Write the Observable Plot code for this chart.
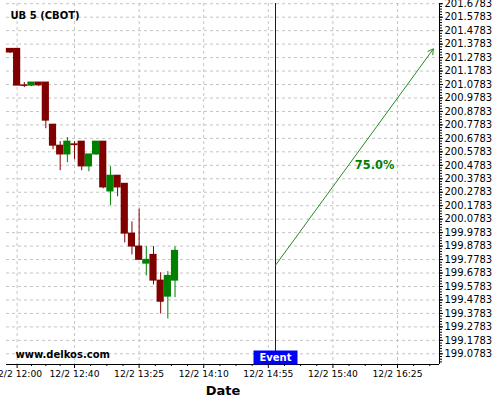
<!DOCTYPE html>
<html>
<head>
<meta charset="utf-8">
<script src="https://cdn.jsdelivr.net/npm/d3@7"></script>
<script src="https://cdn.jsdelivr.net/npm/@observablehq/plot@0.6"></script>
<style>
  html, body { margin: 0; padding: 0; background: #fff; }
  #chart { width: 500px; height: 400px; }
</style>
</head>
<body>
<div id="chart"></div>
<script>
// ---- data ----
const title = "UB 5 (CBOT)";
const site = "www.delkos.com";
const candleTimes = ["11:55","12:00","12:05","12:10","12:15","12:20","12:25","12:30","12:35","12:40","12:45","12:50",
                     "12:55","13:00","13:05","13:10","13:15","13:20","13:25","13:30","13:35","13:40","13:45","13:50"];
const opens  = [201.343,201.343,201.072,201.070,201.093,201.093,200.780,200.624,200.559,200.634,200.654,200.470,
                200.559,200.654,200.284,200.401,200.341,199.971,199.875,199.748,199.813,199.622,199.503,199.622];
const highs  = [201.343,201.343,201.093,201.093,201.093,201.093,200.780,200.654,200.684,200.654,200.654,200.559,
                200.654,200.654,200.468,200.401,200.341,200.058,200.153,199.875,199.875,199.681,199.689,199.873];
const lows   = [201.309,201.070,201.055,201.063,201.063,200.750,200.594,200.438,200.497,200.520,200.438,200.430,
                200.552,200.304,200.180,200.245,199.902,199.813,199.776,199.657,199.590,199.374,199.337,199.495];
const closes = [201.316,201.070,201.068,201.093,201.072,200.810,200.624,200.559,200.654,200.628,200.470,200.559,
                200.654,200.314,200.401,200.314,199.971,199.875,199.776,199.776,199.622,199.465,199.657,199.843];

const xTickLabels = ["12:00","12:40","13:25","14:10","14:55","15:40","16:25"];
const yTicks = [199.0783,199.1783,199.2783,199.3783,199.4783,199.5783,199.6783,199.7783,199.8783,199.9783,
                200.0783,200.1783,200.2783,200.3783,200.4783,200.5783,200.6783,200.7783,200.8783,200.9783,
                201.0783,201.1783,201.2783,201.3783,201.4783,201.5783,201.6783];
const xDomainTimes = ["11:52:36","16:54:15"];
const yDomain = [198.999, 201.680];

const eventTimeStr = "15:00";
const eventLabel = "Event";
const arrowStart = ["15:00", 199.736];
const arrowEnd = ["16:50", 201.343];
const arrowLabel = "75.0%";
const arrowLabelPos = ["16:09", 200.476];

// ---- helpers ----
const T = s => { const [h, m, sec] = s.split(":").map(Number); return new Date(2024, 11, 2, h, m, sec || 0); };
const MIN = 60000;
const candles = candleTimes.map((t, i) => ({
  date: T(t), open: opens[i], high: highs[i], low: lows[i], close: closes[i],
  up: closes[i] >= opens[i]
}));
const red = "#800000", green = "#008000";
const xTicks = xTickLabels.map(T);
const xDomain = xDomainTimes.map(T);
// minor x ticks: each major interval split in 4
const xMinor = [];
for (let i = 0; i < xTicks.length; i++) {
  const step = i < xTicks.length - 1 ? (xTicks[i + 1] - xTicks[i]) / 4 : (xTicks[i] - xTicks[i - 1]) / 4;
  for (let k = 1; k < 4; k++) {
    const d = new Date(+xTicks[i] + k * step);
    if (d <= xDomain[1]) xMinor.push(d);
  }
}
const yMinor = d3.range(0, 140).map(i => 198.9983 + i * 0.02).filter(v => v >= yDomain[0] && v <= yDomain[1]);
const eventTime = T(eventTimeStr);
const arrows = [{x1: T(arrowStart[0]), y1: arrowStart[1], x2: T(arrowEnd[0]), y2: arrowEnd[1]}];
const boxSymbol = { draw(ctx) { ctx.moveTo(-22, -14); ctx.lineTo(22, -14); ctx.lineTo(22, 0); ctx.lineTo(-22, 0); ctx.closePath(); } };
const gridStyle = {stroke: "#c4c4c4", strokeOpacity: 1, strokeDasharray: "3,3"};

const chart = Plot.plot({
  width: 500,
  height: 400,
  marginLeft: 6,
  marginRight: 61,
  marginTop: 3,
  marginBottom: 36,
  style: {fontFamily: "DejaVu Sans", fontSize: "10px", color: "#000", background: "#fff"},
  x: {type: "time", domain: xDomain},
  y: {domain: yDomain},
  marks: [
    Plot.gridY(yTicks, gridStyle),
    Plot.gridX(xTicks, gridStyle),
    // wicks
    Plot.ruleX(candles, {x: "date", y1: "low", y2: "high", stroke: d => d.up ? green : red, strokeWidth: 1}),
    // bodies
    Plot.rect(candles, {
      x1: d => new Date(+d.date - 2.5 * MIN), x2: d => new Date(+d.date + 2.5 * MIN),
      y1: "open", y2: "close", fill: d => d.up ? green : red,
      insetTop: -0.5, insetBottom: -0.5
    }),
    // event line
    Plot.ruleX([eventTime], {x: d => d, stroke: "#0000ff", strokeWidth: 1}),
    // forecast arrow
    Plot.arrow(arrows, {x1: "x1", y1: "y1", x2: "x2", y2: "y2", stroke: "#228b22", strokeWidth: 1, headLength: 9}),
    Plot.text([arrowLabel], {x: () => T(arrowLabelPos[0]), y: () => arrowLabelPos[1], text: d => d,
      fill: "#008000", fontWeight: "bold", fontSize: 11.4}),
    // axis lines
    Plot.ruleY([yDomain[0]], {stroke: "#000"}),
    Plot.ruleX([xDomain[1]], {stroke: "#000"}),
    // event label box
    Plot.dot([eventTime], {x: d => d, frameAnchor: "bottom", symbol: boxSymbol, fill: "#0000ff", stroke: "none", r: 5}),
    Plot.text([eventLabel], {x: () => eventTime, frameAnchor: "bottom", dy: -7, lineAnchor: "middle",
      text: d => d, fill: "#fff", fontWeight: "bold", fontSize: 10}),
    // y axis (right)
    Plot.axisY(yMinor, {anchor: "right", tickSize: 2, tickFormat: () => "", label: null}),
    Plot.axisY(yTicks, {anchor: "right", tickSize: 3, tickPadding: 2, tickFormat: d => d.toFixed(4), fontSize: 10, label: null}),
    // x axis
    Plot.axisX(xMinor, {anchor: "bottom", tickSize: 2, tickFormat: () => "", label: null}),
    Plot.axisX(xTicks, {anchor: "bottom", tickSize: 4, tickPadding: 2, tickFormat: d3.timeFormat("%-m/%-d %H:%M"), fontSize: 9.2, label: null}),
    Plot.text(["Date"], {frameAnchor: "bottom", dy: 26, lineAnchor: "middle", text: d => d, fontSize: 13, fontWeight: "bold"}),
    // title and site
    Plot.text([title], {frameAnchor: "top-left", dx: 4, dy: 12, lineAnchor: "middle", textAnchor: "start",
      text: d => d, fontSize: 10, fontWeight: "bold"}),
    Plot.text([site], {frameAnchor: "bottom-left", dx: 9, dy: -10, lineAnchor: "middle", textAnchor: "start",
      text: d => d, fontSize: 10, fontWeight: "bold"})
  ]
});
document.getElementById("chart").appendChild(chart);
</script>
</body>
</html>
